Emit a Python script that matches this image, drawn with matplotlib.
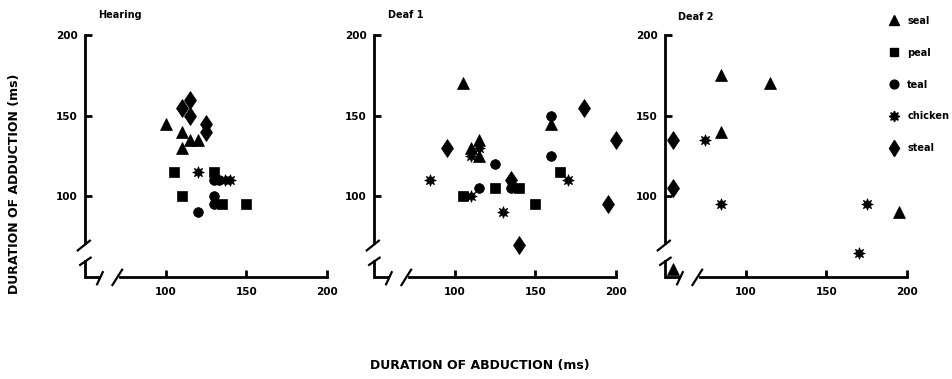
import matplotlib
matplotlib.use("Agg")
import matplotlib.pyplot as plt
from matplotlib.lines import Line2D

plt.rcParams['font.family'] = ['DejaVu Sans']
plt.rcParams['font.weight'] = 'bold'

# ---- data (x = abduction ms, y = adduction ms) ----
panel_titles = ["Hearing", "Deaf 1", "Deaf 2"]
words = ["seal", "peal", "teal", "chicken", "steal"]

hearing_seal_x = [100, 110, 110, 115, 120]
hearing_seal_y = [145, 140, 130, 135, 135]
hearing_peal_x = [105, 110, 130, 135, 150]
hearing_peal_y = [115, 100, 115, 95, 95]
hearing_teal_x = [120, 130, 130, 130, 133]
hearing_teal_y = [90, 100, 95, 110, 110]
hearing_chicken_x = [120, 137, 140]
hearing_chicken_y = [115, 110, 110]
hearing_steal_x = [115, 110, 115, 125, 125]
hearing_steal_y = [160, 155, 150, 145, 140]

deaf1_seal_x = [105, 110, 115, 115, 160]
deaf1_seal_y = [170, 130, 135, 125, 145]
deaf1_peal_x = [105, 125, 140, 150, 165]
deaf1_peal_y = [100, 105, 105, 95, 115]
deaf1_teal_x = [160, 160, 125, 115, 135]
deaf1_teal_y = [150, 125, 120, 105, 105]
deaf1_chicken_x = [85, 110, 115, 110, 130, 170]
deaf1_chicken_y = [110, 125, 130, 100, 90, 110]
deaf1_steal_x = [95, 135, 140, 180, 200, 195]
deaf1_steal_y = [130, 110, 70, 155, 135, 95]

deaf2_seal_x = [85, 115, 85, 195, 55]
deaf2_seal_y = [175, 170, 140, 90, 55]
deaf2_peal_x = []
deaf2_peal_y = []
deaf2_teal_x = []
deaf2_teal_y = []
deaf2_chicken_x = [75, 85, 175, 170]
deaf2_chicken_y = [135, 95, 95, 65]
deaf2_steal_x = [55, 55]
deaf2_steal_y = [135, 105]

x_ticks = [100, 150, 200]
y_ticks = [100, 150, 200]

panels = [
    [(hearing_seal_x, hearing_seal_y), (hearing_peal_x, hearing_peal_y),
     (hearing_teal_x, hearing_teal_y), (hearing_chicken_x, hearing_chicken_y),
     (hearing_steal_x, hearing_steal_y)],
    [(deaf1_seal_x, deaf1_seal_y), (deaf1_peal_x, deaf1_peal_y),
     (deaf1_teal_x, deaf1_teal_y), (deaf1_chicken_x, deaf1_chicken_y),
     (deaf1_steal_x, deaf1_steal_y)],
    [(deaf2_seal_x, deaf2_seal_y), (deaf2_peal_x, deaf2_peal_y),
     (deaf2_teal_x, deaf2_teal_y), (deaf2_chicken_x, deaf2_chicken_y),
     (deaf2_steal_x, deaf2_steal_y)],
]

# ---- style ----
markers = ['^', 's', 'o', (8, 1, 0), 'd']
msizes = [8, 6.5, 7, 8.5, 9.5]

W, H = 953, 379
fig = plt.figure(figsize=(W / 100, H / 100), dpi=100)

lefts = [85, 374, 665]
ax_w = 242
ax_top = 35
ax_bottom = 277
lw = 2.0

title_pos = [(98, 15), (388, 15), (678, 17)]

for i, left in enumerate(lefts):
    ax = fig.add_axes([left / W, 1 - ax_bottom / H, ax_w / W, (ax_bottom - ax_top) / H])
    ax.set_xlim(50, 200)
    ax.set_ylim(50, 200)
    ax.patch.set_visible(False)
    for s in ['top', 'right']:
        ax.spines[s].set_visible(False)
    ax.spines['left'].set_linewidth(lw)
    ax.spines['bottom'].set_linewidth(lw)
    ax.spines['left'].set_bounds(71, 200)
    ax.spines['bottom'].set_bounds(72, 200)
    ax.set_xticks(x_ticks)
    ax.set_yticks(y_ticks)
    ax.tick_params(direction='in', length=5, width=lw, labelsize=7.5)
    ax.tick_params(axis='x', pad=7)
    ax.tick_params(axis='y', pad=5)
    for lab in ax.get_xticklabels() + ax.get_yticklabels():
        lab.set_fontweight('bold')

    # broken-axis decorations
    ax.plot([50, 50, 58], [60, 50, 50], color='k', lw=lw, clip_on=False,
            solid_joinstyle='miter')
    ax.plot([45.5, 53], [66.5, 72.5], color='k', lw=1.6, clip_on=False)
    ax.plot([47, 53.5], [57.5, 62], color='k', lw=1.6, clip_on=False)
    ax.plot([57.5, 61], [45.5, 53], color='k', lw=1.6, clip_on=False)
    ax.plot([67, 73], [45, 54.5], color='k', lw=1.6, clip_on=False)

    for (xs, ys), m, ms in zip(panels[i], markers, msizes):
        if len(xs):
            ax.plot(xs, ys, linestyle='none', marker=m, markersize=ms,
                    color='black', markeredgewidth=0.5, clip_on=False)

    tx, ty = title_pos[i]
    fig.text(tx / W, 1 - ty / H, panel_titles[i], fontsize=7, fontweight='bold',
             ha='left', va='center')

# legend
handles = [Line2D([], [], linestyle='none', marker=m, markersize=ms * 0.9, color='black')
           for m, ms in zip(markers, msizes)]
fig.legend(handles, words, loc='upper left', bbox_to_anchor=(884 / W, 1 - 11 / H),
           frameon=False, borderpad=0, handlelength=1.0,
           handletextpad=0.9, labelspacing=2.25, prop={'weight': 'bold', 'size': 7})

fig.text(15 / W, 1 - 184 / H, "DURATION OF ADDUCTION (ms)", rotation=90,
         fontsize=9, fontweight='bold', ha='center', va='center')
fig.text(480 / W, 1 - 366 / H, "DURATION OF ABDUCTION (ms)",
         fontsize=9, fontweight='bold', ha='center', va='center')

fig.savefig("out.png", dpi=100)
